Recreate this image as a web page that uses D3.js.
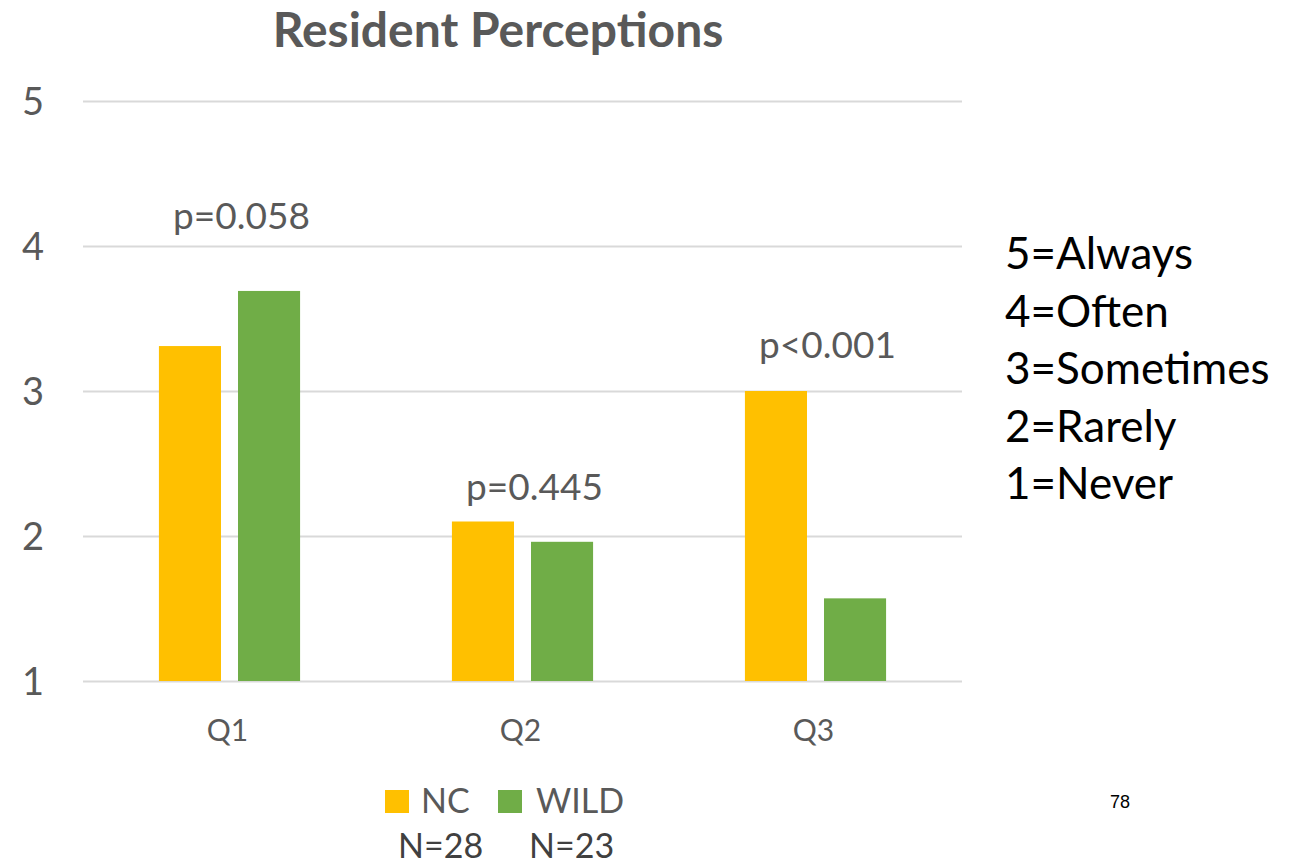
<!DOCTYPE html>
<html>
<head>
<meta charset="utf-8">
<script src="https://cdn.jsdelivr.net/npm/d3@7"></script>
<style>
  html, body { margin: 0; padding: 0; background: #ffffff; }
  svg { display: block; }
  text { font-family: Lato, "Open Sans", sans-serif; }
</style>
</head>
<body>
<div id="chart"></div>
<script>
// Mean ratings per question for each group (1 = Never ... 5 = Always)
const categories = ["Q1", "Q2", "Q3"];
const seriesNames = ["NC", "WILD"];
const ncValues = [3.31, 2.10, 3.00];
const wildValues = [3.69, 1.96, 1.57];
const sampleSizes = ["N=28", "N=23"];
const pLabels = ["p=0.058", "p=0.445", "p<0.001"];
const pLabelLevels = [4.12, 2.25, 3.23];
const yTicks = [1, 2, 3, 4, 5];
const scaleKey = ["5=Always", "4=Often", "3=Sometimes", "2=Rarely", "1=Never"];
const colors = { NC: "#FFC000", WILD: "#70AD47" };

const width = 1294, height = 866;
const margin = { left: 83, right: 332, top: 101, bottom: 185 };

const svg = d3.select("#chart").append("svg")
  .attr("width", width).attr("height", height);

const x = d3.scaleBand()
  .domain(categories)
  .range([margin.left, width - margin.right]);

const x1 = d3.scaleBand()
  .domain(seriesNames)
  .range([0, x.bandwidth()])
  .paddingInner(0.215)
  .paddingOuter(0.96);

const y = d3.scaleLinear()
  .domain([1, 5])
  .range([height - margin.bottom, margin.top]);

// Gridlines
svg.append("g")
  .selectAll("line")
  .data(yTicks)
  .join("line")
  .attr("x1", margin.left)
  .attr("x2", width - margin.right)
  .attr("y1", d => Math.round(y(d)) + 0.5)
  .attr("y2", d => Math.round(y(d)) + 0.5)
  .attr("stroke", "#D9D9D9")
  .attr("stroke-width", 2);

// Y axis labels
const yAxis = d3.axisLeft(y).tickValues(yTicks).tickSize(0).tickPadding(0).tickFormat(d3.format("d"));
svg.append("g")
  .attr("transform", `translate(33,0)`)
  .call(yAxis)
  .call(g => g.select(".domain").remove())
  .call(g => g.selectAll("text")
    .attr("text-anchor", "middle")
    .attr("dy", "0.36em")
    .attr("fill", "#595959")
    .style("font-size", "38px")
    .style("font-family", "Lato, sans-serif"));

// Bars
const rows = categories.map((c, i) => ({ cat: c, NC: ncValues[i], WILD: wildValues[i] }));
svg.append("g")
  .selectAll("g")
  .data(rows)
  .join("g")
  .attr("transform", d => `translate(${x(d.cat)},0)`)
  .selectAll("rect")
  .data(d => seriesNames.map(s => ({ s, v: d[s] })))
  .join("rect")
  .attr("x", d => x1(d.s))
  .attr("width", x1.bandwidth())
  .attr("y", d => y(d.v))
  .attr("height", d => y(1) - y(d.v))
  .attr("fill", d => colors[d.s]);

// X axis labels
const xAxis = d3.axisBottom(x).tickSize(0).tickPadding(0);
svg.append("g")
  .attr("transform", `translate(0,${y(1) + 60})`)
  .call(xAxis)
  .call(g => g.select(".domain").remove())
  .call(g => g.selectAll("text")
    .attr("dy", 0)
    .attr("dx", -2)
    .attr("fill", "#595959")
    .style("font-size", "30px")
    .style("font-family", "Lato, sans-serif"));

// Significance labels
svg.append("g")
  .selectAll("text")
  .data(categories)
  .join("text")
  .attr("x", (d, i) => x(d) + x.bandwidth() / 2 + 12)
  .attr("y", (d, i) => y(pLabelLevels[i]))
  .attr("text-anchor", "middle")
  .attr("fill", "#595959")
  .style("font-size", "37px")
  .text((d, i) => pLabels[i]);

// Title
svg.append("text")
  .attr("x", 498).attr("y", 47)
  .attr("text-anchor", "middle")
  .attr("fill", "#595959")
  .style("font-size", "48px")
  .style("font-weight", "bold")
  .text("Resident Perceptions");

// Legend
const legendPos = [{ sq: 385, tx: 421, n: 398 }, { sq: 498, tx: 536, n: 529 }];
const legend = svg.append("g");
seriesNames.forEach((s, i) => {
  legend.append("rect")
    .attr("x", legendPos[i].sq).attr("y", 790)
    .attr("width", 24).attr("height", 23)
    .attr("fill", colors[s]);
  legend.append("text")
    .attr("x", legendPos[i].tx).attr("y", 813)
    .attr("fill", "#595959")
    .style("font-size", "34px")
    .text(s);
  legend.append("text")
    .attr("x", legendPos[i].n).attr("y", 858)
    .attr("fill", "#404040")
    .style("font-size", "34px")
    .text(sampleSizes[i]);
});

// Response scale key
svg.append("g")
  .selectAll("text")
  .data(scaleKey)
  .join("text")
  .attr("x", 1005)
  .attr("y", (d, i) => 269 + i * 57.5)
  .attr("fill", "#000000")
  .style("font-size", "44px")
  .text(d => d);

// Slide number
svg.append("text")
  .attr("x", 1110).attr("y", 808)
  .attr("fill", "#000000")
  .style("font-family", "'Liberation Sans', Arial, sans-serif")
  .style("font-size", "18px")
  .text("78");
</script>
</body>
</html>
